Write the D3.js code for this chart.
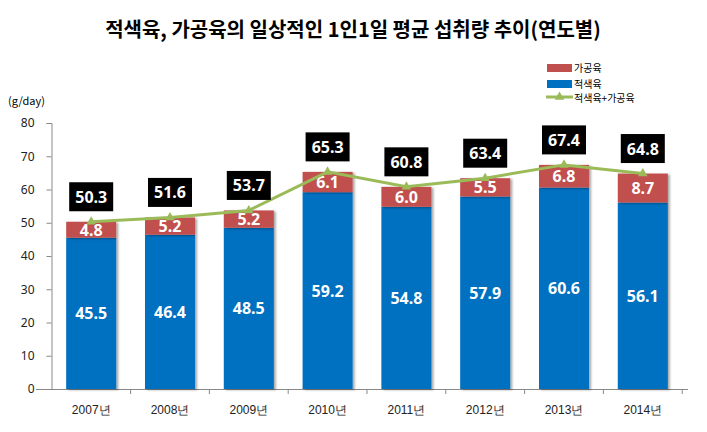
<!DOCTYPE html>
<html><head><meta charset="utf-8">
<script src="https://cdn.jsdelivr.net/npm/d3@7"></script>
<style>body{margin:0;background:#fff;}svg{display:block;font-family:"Noto Sans CJK KR","Noto Sans",sans-serif;}</style>
</head><body>
<svg id="c" width="707" height="432"></svg>
<script>
const years = ["2007년","2008년","2009년","2010년","2011년","2012년","2013년","2014년"];
const redMeat = [45.5,46.4,48.5,59.2,54.8,57.9,60.6,56.1];
const processed = [4.8,5.2,5.2,6.1,6.0,5.5,6.8,8.7];
const totals = [50.3,51.6,53.7,65.3,60.8,63.4,67.4,64.8];
const yTicks = [0,10,20,30,40,50,60,70,80];
const seriesNames = ["가공육","적색육","적색육+가공육"];
const colors = {red:"#C0504D", blue:"#0070C0", line:"#9BBB59"};

const svg = d3.select("#c");
const defs = svg.append("defs");
const f = defs.append("filter").attr("id","sh").attr("x","-10%").attr("y","-10%").attr("width","130%").attr("height","130%");
f.append("feDropShadow").attr("dx",2).attr("dy",1).attr("stdDeviation",1.2).attr("flood-color","#000").attr("flood-opacity",0.35);

const x = d3.scaleBand().domain(years).range([52,682]).paddingInner(0.365).paddingOuter(0.18);
const y = d3.scaleLinear().domain([0,80]).range([389,123]);

svg.append("text").attr("x",353).attr("y",37).attr("text-anchor","middle")
  .attr("font-size",20).attr("font-weight","bold").attr("fill","#000")
  .text("적색육, 가공육의 일상적인 1인1일 평균 섭취량 추이(연도별)");

svg.append("text").attr("x",8).attr("y",105).attr("font-size",11).attr("fill","#000").text("(g/day)");

// y axis
const ya = svg.append("g").attr("transform","translate(51.5,0)")
  .call(d3.axisLeft(y).tickValues(yTicks).tickSize(5).tickPadding(12).tickFormat(d3.format("d")));
ya.select(".domain").attr("stroke","#888");
ya.selectAll(".tick line").attr("stroke","#888");
ya.selectAll("text").attr("font-size",12).attr("fill","#222").attr("font-family","'Noto Sans','DejaVu Sans',sans-serif");

// x axis
const xa = svg.append("g").attr("transform","translate(0,389.5)")
  .call(d3.axisBottom(x).tickSize(0).tickPadding(16));
xa.select(".domain").attr("stroke","#888").attr("d","M36,0H688");
xa.selectAll("text").attr("font-size",12).attr("fill","#222");
const step = x.step();
const boundaries = years.map((d,i)=>x(d)+x.bandwidth()/2+step/2);
svg.append("g").selectAll("line").data(boundaries).join("line")
  .attr("x1",d=>d).attr("x2",d=>d).attr("y1",389.5).attr("y2",394).attr("stroke","#888");

// bars
const g = svg.append("g");
g.selectAll("rect.b").data(years).join("rect").attr("class","b")
  .attr("x",d=>x(d)).attr("width",x.bandwidth())
  .attr("y",(d,i)=>y(redMeat[i])).attr("height",(d,i)=>y(0)-y(redMeat[i]))
  .attr("fill",colors.blue).attr("filter","url(#sh)");
g.selectAll("rect.r").data(years).join("rect").attr("class","r")
  .attr("x",d=>x(d)).attr("width",x.bandwidth())
  .attr("y",(d,i)=>y(redMeat[i]+processed[i])).attr("height",(d,i)=>y(redMeat[i])-y(redMeat[i]+processed[i]))
  .attr("fill",colors.red).attr("filter","url(#sh)");

// bar labels
g.selectAll("text.bl").data(years).join("text").attr("class","bl")
  .attr("x",d=>x(d)+x.bandwidth()/2).attr("y",(d,i)=>y(redMeat[i]/2)+6)
  .attr("text-anchor","middle").attr("font-size",16).attr("font-weight","bold").attr("fill","#fff")
  .attr("font-family","'Noto Sans','DejaVu Sans',sans-serif")
  .text((d,i)=>redMeat[i].toFixed(1));
g.selectAll("text.rl").data(years).join("text").attr("class","rl")
  .attr("x",d=>x(d)+x.bandwidth()/2).attr("y",(d,i)=>y(redMeat[i]+processed[i]/2)+6)
  .attr("text-anchor","middle").attr("font-size",16).attr("font-weight","bold").attr("fill","#fff")
  .attr("font-family","'Noto Sans','DejaVu Sans',sans-serif")
  .text((d,i)=>processed[i].toFixed(1));

// line
const cx = d=>x(d)+x.bandwidth()/2;
const line = d3.line().x((d,i)=>cx(years[i])).y(d=>y(d));
svg.append("path").datum(totals).attr("d",line).attr("fill","none").attr("stroke",colors.line).attr("stroke-width",3);
const tri = d3.symbol().type(d3.symbolTriangle).size(40);
svg.append("g").selectAll("path").data(totals).join("path")
  .attr("transform",(d,i)=>`translate(${cx(years[i])},${y(d)})`).attr("d",tri).attr("fill",colors.line);

// total boxes
const tb = svg.append("g").selectAll("g").data(totals).join("g")
  .attr("transform",(d,i)=>`translate(${cx(years[i])},${y(d)-25})`);
tb.append("rect").attr("x",-22).attr("y",-14.5).attr("width",44).attr("height",29).attr("fill","#000");
tb.append("text").attr("y",6).attr("text-anchor","middle").attr("font-size",16).attr("font-weight","bold")
  .attr("fill","#fff").attr("font-family","'Noto Sans','DejaVu Sans',sans-serif").text(d=>d.toFixed(1));

// legend
const lg = svg.append("g").attr("font-size",10);
lg.append("rect").attr("x",547).attr("y",64).attr("width",25).attr("height",8).attr("fill",colors.red);
lg.append("text").attr("x",574).attr("y",71.5).text(seriesNames[0]);
lg.append("rect").attr("x",547).attr("y",80).attr("width",25).attr("height",8).attr("fill",colors.blue);
lg.append("text").attr("x",574).attr("y",87.5).text(seriesNames[1]);
lg.append("line").attr("x1",546).attr("x2",573).attr("y1",97).attr("y2",97).attr("stroke",colors.line).attr("stroke-width",3);
lg.append("path").attr("transform","translate(559.5,97)").attr("d",tri).attr("fill",colors.line);
lg.append("text").attr("x",574).attr("y",101.5).text(seriesNames[2]);
</script>
</body></html>
